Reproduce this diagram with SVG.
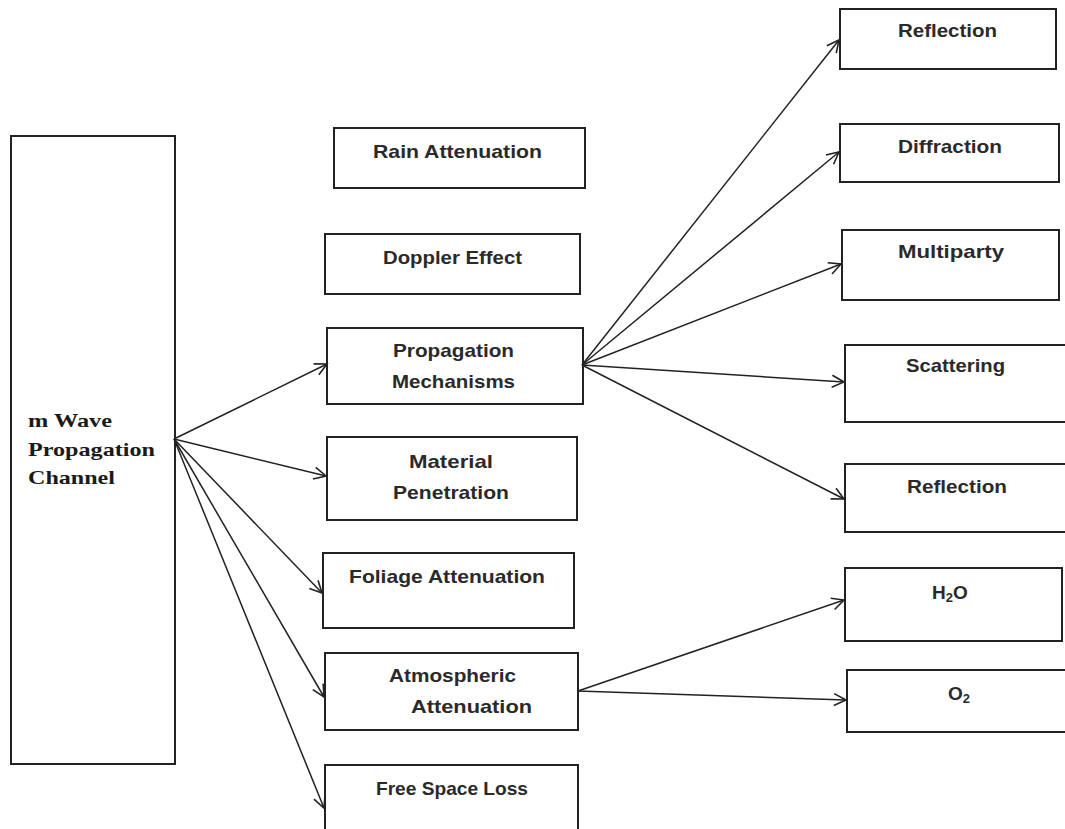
<svg xmlns="http://www.w3.org/2000/svg" width="1065" height="829" viewBox="0 0 1065 829">
<style>
.box{fill:#fff;stroke:#222;stroke-width:2}
.lbl{font-family:"Liberation Sans",Arial,sans-serif;font-weight:bold;font-size:19px;fill:#2a2a2a}
.main{font-family:"Liberation Serif","Times New Roman",serif;font-weight:bold;font-size:19px;fill:#1a1a1a}
.sub{font-size:13px}
.conn line{stroke:#222;stroke-width:1.5;fill:none;marker-end:url(#arr)}
</style>
<defs>
<marker id="arr" markerUnits="userSpaceOnUse" markerWidth="16" markerHeight="16" refX="13" refY="7" orient="auto" viewBox="0 0 16 14">
<path d="M1,1 L13,7 L1,13" fill="none" stroke="#222" stroke-width="1.6"/>
</marker>
</defs>
<rect width="1065" height="829" fill="#fff"/>
<g id="main-node">
<rect class="box" x="11" y="136" width="164" height="628"/>
<text class="main" x="28" y="427" textLength="84" lengthAdjust="spacingAndGlyphs">m Wave</text>
<text class="main" x="28" y="456" textLength="127" lengthAdjust="spacingAndGlyphs">Propagation</text>
<text class="main" x="28" y="484" textLength="87" lengthAdjust="spacingAndGlyphs">Channel</text>
</g>
<g id="rain">
<rect class="box" x="334" y="128" width="251" height="60"/>
<text class="lbl" x="373" y="158" textLength="169" lengthAdjust="spacingAndGlyphs">Rain Attenuation</text>
</g>
<g id="doppler">
<rect class="box" x="325" y="234" width="255" height="60"/>
<text class="lbl" x="383" y="264" textLength="139" lengthAdjust="spacingAndGlyphs">Doppler Effect</text>
</g>
<g id="propagation">
<rect class="box" x="327" y="328" width="256" height="76"/>
<text class="lbl" x="393" y="357" textLength="121" lengthAdjust="spacingAndGlyphs">Propagation</text>
<text class="lbl" x="392" y="388" textLength="123" lengthAdjust="spacingAndGlyphs">Mechanisms</text>
</g>
<g id="material">
<rect class="box" x="327" y="437" width="250" height="83"/>
<text class="lbl" x="409" y="468" textLength="84" lengthAdjust="spacingAndGlyphs">Material</text>
<text class="lbl" x="393" y="499" textLength="116" lengthAdjust="spacingAndGlyphs">Penetration</text>
</g>
<g id="foliage">
<rect class="box" x="323" y="553" width="251" height="75"/>
<text class="lbl" x="349" y="583" textLength="196" lengthAdjust="spacingAndGlyphs">Foliage Attenuation</text>
</g>
<g id="atmospheric">
<rect class="box" x="325" y="653" width="253" height="77"/>
<text class="lbl" x="389" y="682" textLength="127" lengthAdjust="spacingAndGlyphs">Atmospheric</text>
<text class="lbl" x="411" y="713" textLength="121" lengthAdjust="spacingAndGlyphs">Attenuation</text>
</g>
<g id="freespace">
<rect class="box" x="325" y="765" width="253" height="80"/>
<text class="lbl" x="376" y="795" textLength="152" lengthAdjust="spacingAndGlyphs">Free Space Loss</text>
</g>
<g id="reflection1">
<rect class="box" x="840" y="9" width="216" height="60"/>
<text class="lbl" x="898" y="37" textLength="99" lengthAdjust="spacingAndGlyphs">Reflection</text>
</g>
<g id="diffraction">
<rect class="box" x="840" y="124" width="219" height="58"/>
<text class="lbl" x="898" y="153" textLength="104" lengthAdjust="spacingAndGlyphs">Diffraction</text>
</g>
<g id="multiparty">
<rect class="box" x="842" y="230" width="217" height="70"/>
<text class="lbl" x="898" y="258" textLength="106" lengthAdjust="spacingAndGlyphs">Multiparty</text>
</g>
<g id="scattering">
<rect class="box" x="845" y="345" width="230" height="77"/>
<text class="lbl" x="906" y="372" textLength="99" lengthAdjust="spacingAndGlyphs">Scattering</text>
</g>
<g id="reflection2">
<rect class="box" x="845" y="464" width="230" height="68"/>
<text class="lbl" x="907" y="493" textLength="100" lengthAdjust="spacingAndGlyphs">Reflection</text>
</g>
<g id="h2o">
<rect class="box" x="845" y="568" width="217" height="73"/>
<text class="lbl" x="932" y="599">H<tspan class="sub" dy="3">2</tspan><tspan dy="-3">O</tspan></text>
</g>
<g id="o2">
<rect class="box" x="847" y="670" width="230" height="62"/>
<text class="lbl" x="948" y="700">O<tspan class="sub" dy="3">2</tspan></text>
</g>
<g id="connectors" class="conn">
<line x1="174" y1="439" x2="327" y2="364"/>
<line x1="174" y1="439" x2="326" y2="476"/>
<line x1="174" y1="439" x2="322" y2="593"/>
<line x1="174" y1="439" x2="324" y2="697"/>
<line x1="174" y1="439" x2="324" y2="808"/>
<line x1="582" y1="365" x2="839" y2="40"/>
<line x1="582" y1="365" x2="839" y2="152"/>
<line x1="582" y1="365" x2="841" y2="264"/>
<line x1="582" y1="365" x2="844" y2="382"/>
<line x1="582" y1="365" x2="844" y2="499"/>
<line x1="578" y1="691" x2="844" y2="600"/>
<line x1="578" y1="691" x2="846" y2="700"/>
</g>
</svg>
